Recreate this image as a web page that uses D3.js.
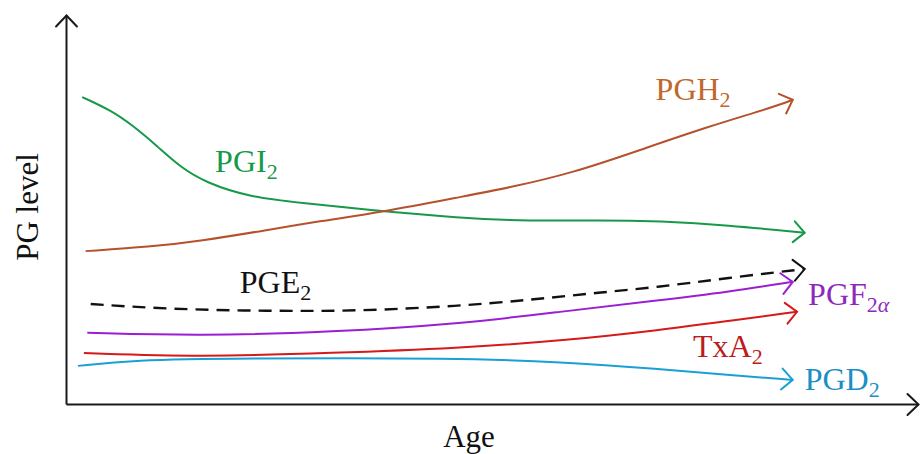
<!DOCTYPE html>
<html>
<head>
<meta charset="utf-8">
<script src="https://cdn.jsdelivr.net/npm/d3@7/dist/d3.min.js"></script>
<style>
  html, body { margin: 0; padding: 0; background: #fff; }
  svg { display: block; }
</style>
</head>
<body>
<svg id="chart" width="920" height="454"></svg>
<script>
// ---- Data (conceptual levels, 0-100 scale) ----
const pgi2Age   = [1.9, 5.2, 7.9, 10.7, 13.4, 16.5, 21.6, 27.5, 35.3, 46.2, 54.5, 62.7, 69.7, 77.6, 86.7];
const pgi2Level = [78.9, 75.6, 71.5, 66.3, 60.9, 56.8, 53.2, 51.7, 49.9, 47.8, 47.0, 47.3, 47.0, 46.0, 44.0];

const pgh2Age   = [2.3, 9.9, 15.7, 23.6, 29.8, 37.2, 46.2, 51.8, 59.5, 67.4, 75.2, 83.0, 85.3];
const pgh2Level = [39.3, 40.4, 41.9, 44.7, 47.0, 49.4, 53.2, 55.5, 59.4, 65.3, 71.2, 76.3, 78.2];

const pge2Age   = [2.9, 11.9, 23.6, 34.5, 46.2, 54.1, 61.9, 69.7, 77.6, 86.7];
const pge2Level = [25.7, 24.4, 23.9, 23.9, 25.2, 26.7, 28.5, 30.1, 32.4, 34.7];

const pgf2aAge   = [2.5, 15.7, 31.3, 46.2, 58.0, 69.7, 77.6, 85.3];
const pgf2aLevel = [18.3, 17.5, 18.5, 20.6, 23.7, 26.7, 28.8, 31.4];

const txa2Age   = [2.1, 15.7, 31.3, 46.2, 58.0, 69.7, 77.6, 85.8];
const txa2Level = [13.1, 12.1, 13.1, 14.4, 16.2, 19.0, 21.3, 23.7];

const pgd2Age   = [1.4, 7.9, 19.6, 46.2, 58.0, 69.7, 77.6, 85.3];
const pgd2Level = [9.8, 11.3, 11.8, 11.8, 10.8, 9.0, 7.5, 6.2];

const seriesNames = ["PGI2", "PGH2", "PGE2", "PGF2a", "TxA2", "PGD2"];
const axisTitles = { x: "Age", y: "PG level" };

const FONT = "'Liberation Serif', 'Times New Roman', Tinos, 'DejaVu Serif', 'Noto Serif', serif";

// ---- Build series ----
const zip = (a, b) => a.map((v, i) => ({ age: v, level: b[i] }));
const series = [
  { id: "PGI2",  pts: zip(pgi2Age, pgi2Level),   color: "#17994a", dash: null },
  { id: "PGH2",  pts: zip(pgh2Age, pgh2Level),   color: "#b5522b", dash: null },
  { id: "PGE2",  pts: zip(pge2Age, pge2Level),   color: "#111111", dash: "13,8" },
  { id: "PGF2a", pts: zip(pgf2aAge, pgf2aLevel), color: "#9c1ed2", dash: null },
  { id: "TxA2",  pts: zip(txa2Age, txa2Level),   color: "#d41a1a", dash: null },
  { id: "PGD2",  pts: zip(pgd2Age, pgd2Level),   color: "#1a9fd6", dash: null }
];

// label annotations (data coordinates of text start / baseline)
const labels = [
  { main: "PGI", sub: "2",  age: 17.5, level: 59.6, color: "#17994a" },
  { main: "PGH", sub: "2",  age: 69.2, level: 78.1, color: "#c0682b" },
  { main: "PGE", sub: "2",  age: 20.4, level: 28.5, color: "#111111" },
  { main: "PGF", sub: "2",  age: 87.1, level: 25.4, color: "#8f28bc", greek: "α" },
  { main: "TxA", sub: "2",  age: 73.6, level: 12.1, color: "#bb1c1c" },
  { main: "PGD", sub: "2",  age: 86.7, level: 3.6,  color: "#1b8fc4" }
];

// ---- Scales ----
const svg = d3.select("#chart");
const x = d3.scaleLinear().domain([0, 100]).range([66, 918]);
const y = d3.scaleLinear().domain([0, 100]).range([404, 15]);

// ---- Markers ----
const defs = svg.append("defs");
function addMarker(id, color, size) {
  defs.append("marker")
    .attr("id", id)
    .attr("markerUnits", "userSpaceOnUse")
    .attr("viewBox", "-20 -20 40 40")
    .attr("markerWidth", 40).attr("markerHeight", 40)
    .attr("refX", 0).attr("refY", 0)
    .attr("orient", "auto")
    .append("path")
    .attr("d", `M${-size},${-size * 0.95} L0,0 L${-size},${size * 0.95}`)
    .attr("fill", "none")
    .attr("stroke", color)
    .attr("stroke-width", 2)
    .attr("stroke-dasharray", "none")
    .attr("stroke-linecap", "round")
    .attr("stroke-linejoin", "miter");
}
series.forEach(s => addMarker("arr-" + s.id, s.color, 11));
addMarker("arr-axis", "#1a1a1a", 11);

// ---- Axes ----
const xAxis = d3.axisBottom(x).ticks(0).tickSize(0).tickSizeOuter(0);
const yAxis = d3.axisLeft(y).ticks(0).tickSize(0).tickSizeOuter(0);

const gx = svg.append("g").attr("transform", `translate(0,${y(0)})`).call(xAxis);
const gy = svg.append("g").attr("transform", `translate(${x(0)},0)`).call(yAxis);
[gx, gy].forEach(g => {
  g.selectAll("text").remove();
  g.select(".domain")
    .attr("stroke", "#1a1a1a")
    .attr("stroke-width", 2)
    .attr("marker-end", "url(#arr-axis)");
});

// ---- Curves ----
const line = d3.line()
  .x(d => x(d.age))
  .y(d => y(d.level))
  .curve(d3.curveBasis);

svg.append("g").selectAll("path")
  .data(series)
  .join("path")
  .attr("d", s => line(s.pts))
  .attr("fill", "none")
  .attr("stroke", s => s.color)
  .attr("stroke-width", s => s.dash ? 2.4 : 2)
  .attr("stroke-dasharray", s => s.dash)
  .attr("marker-end", s => `url(#arr-${s.id})`);

// ---- Labels ----
const lg = svg.append("g").attr("font-family", FONT);
labels.forEach(l => {
  const t = lg.append("text")
    .attr("x", x(l.age))
    .attr("y", y(l.level))
    .attr("fill", l.color)
    .attr("font-family", FONT)
    .attr("font-size", 32);
  t.append("tspan").text(l.main);
  t.append("tspan").attr("font-size", 22).attr("dy", 7).text(l.sub);
  if (l.greek) t.append("tspan").attr("font-size", 22).attr("font-style", "italic").text(l.greek);
});

// ---- Axis titles ----
svg.append("text")
  .attr("x", 469).attr("y", 447)
  .attr("text-anchor", "middle")
  .attr("font-family", FONT)
  .attr("font-size", 31)
  .attr("fill", "#111")
  .text(axisTitles.x);

svg.append("text")
  .attr("transform", "translate(38,207) rotate(-90)")
  .attr("text-anchor", "middle")
  .attr("font-family", FONT)
  .attr("font-size", 31)
  .attr("fill", "#111")
  .text(axisTitles.y);
</script>
</body>
</html>
